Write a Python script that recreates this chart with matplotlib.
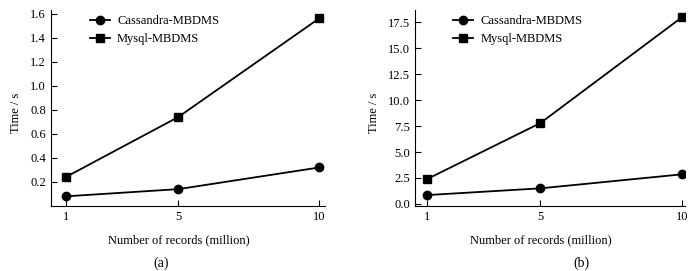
import matplotlib
matplotlib.use("Agg")
import matplotlib.pyplot as plt

plt.rcParams['font.family'] = ['Liberation Serif', 'DejaVu Serif']
plt.rcParams['font.size'] = 9

# ------------------------------
# data
# ------------------------------
records = [1, 5, 10]
cassandra_a = [0.08, 0.14, 0.32]
mysql_a = [0.24, 0.74, 1.56]
cassandra_b = [0.85, 1.5, 2.85]
mysql_b = [2.4, 7.8, 18.0]

yticks_a = [0.2, 0.4, 0.6, 0.8, 1.0, 1.2, 1.4, 1.6]
yticks_b = [0.0, 2.5, 5.0, 7.5, 10.0, 12.5, 15.0, 17.5]

fig = plt.figure(figsize=(7, 2.71), dpi=100)
ax_a = fig.add_axes([0.0729, 0.240, 0.391, 0.723])
ax_b = fig.add_axes([0.593, 0.240, 0.386, 0.723])


def panel(ax, cas, mys, yticks, ylim, xlim, tag, tag_x):
    ax.plot(records, cas, color='black', lw=1.3, marker='o', ms=6,
            label='Cassandra-MBDMS')
    ax.plot(records, mys, color='black', lw=1.3, marker='s', ms=6,
            label='Mysql-MBDMS')
    ax.set_xticks(records)
    ax.set_yticks(yticks)
    ax.set_ylim(*ylim)
    ax.set_xlim(*xlim)
    ax.spines['top'].set_visible(False)
    ax.spines['right'].set_visible(False)
    ax.tick_params(direction='in', length=4, width=0.8, labelsize=9)
    ax.set_xlabel('Number of records (million)', labelpad=8)
    ax.xaxis.label.set_x(0.467)
    ax.set_ylabel('Time / s', labelpad=6)
    ax.yaxis.label.set_y(0.474)
    ax.legend(loc='upper left', bbox_to_anchor=(0.1, 1.03), frameon=False,
              handlelength=1.6, handletextpad=0.6, labelspacing=0.45,
              fontsize=9)
    fig.text(tag_x, 0.03, tag, ha='center', va='center', fontsize=10)


panel(ax_a, cassandra_a, mysql_a, yticks_a, (0, 1.63), (0.48, 10.2),
      '(a)', 161 / 700)
panel(ax_b, cassandra_b, mysql_b, yticks_b, (-0.2, 18.7), (0.57, 10.12),
      '(b)', 581 / 700)

plt.savefig('out.png', dpi=100)
plt.close()
